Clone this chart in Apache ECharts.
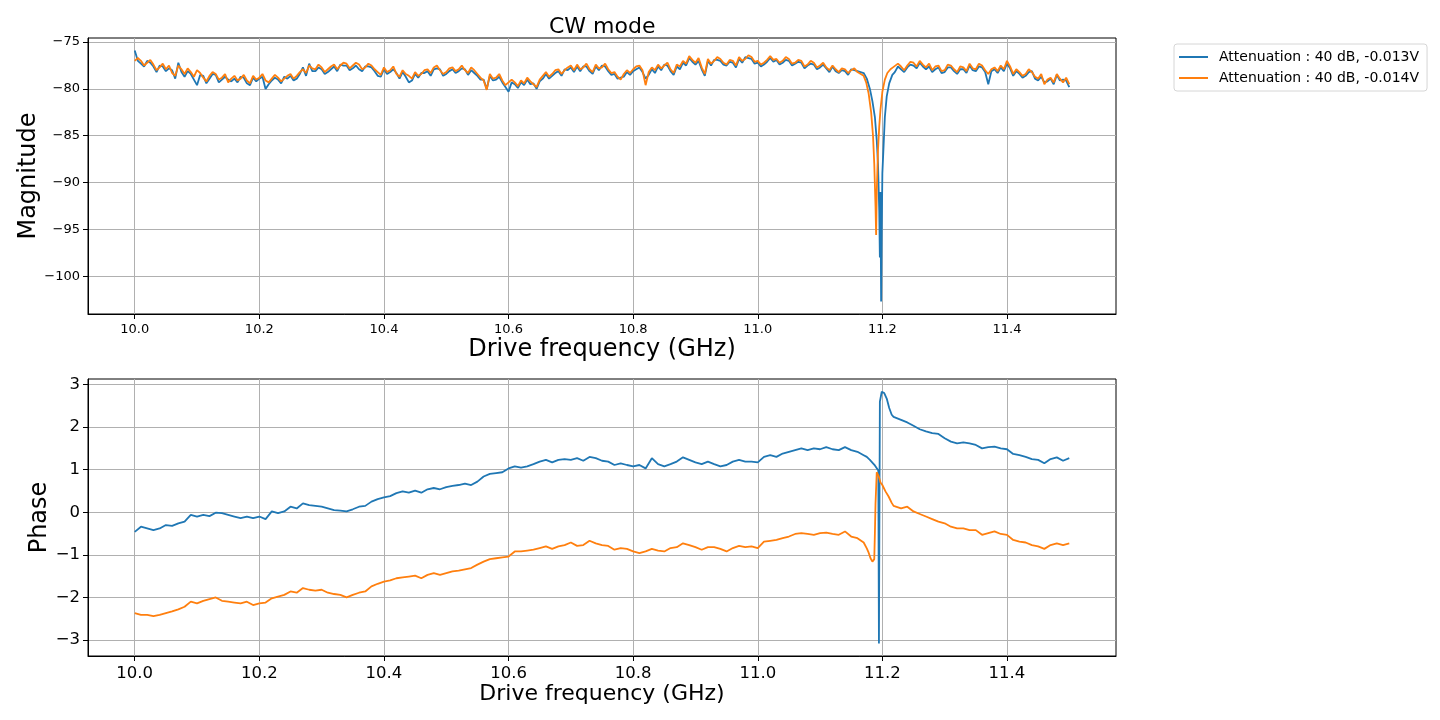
<!DOCTYPE html>
<html>
<head>
<meta charset="utf-8">
<script src="https://cdn.jsdelivr.net/npm/echarts@6/dist/echarts.min.js"></script>
<style>
html, body { margin: 0; padding: 0; background: #fff; }
#main { width: 1440px; height: 720px; }
</style>
</head>
<body>
<div id="main"></div>
<script>
// drive frequency grid (GHz), the resonance region is sampled separately
var freq = [
  10.00, 10.01, 10.02, 10.03, 10.04, 10.05, 10.06, 10.07, 10.08, 10.09,
  10.10, 10.11, 10.12, 10.13, 10.14, 10.15, 10.16, 10.17, 10.18, 10.19,
  10.20, 10.21, 10.22, 10.23, 10.24, 10.25, 10.26, 10.27, 10.28, 10.29,
  10.30, 10.31, 10.32, 10.33, 10.34, 10.35, 10.36, 10.37, 10.38, 10.39,
  10.40, 10.41, 10.42, 10.43, 10.44, 10.45, 10.46, 10.47, 10.48, 10.49,
  10.50, 10.51, 10.52, 10.53, 10.54, 10.55, 10.56, 10.57, 10.58, 10.59,
  10.60, 10.61, 10.62, 10.63, 10.64, 10.65, 10.66, 10.67, 10.68, 10.69,
  10.70, 10.71, 10.72, 10.73, 10.74, 10.75, 10.76, 10.77, 10.78, 10.79,
  10.80, 10.81, 10.82, 10.83, 10.84, 10.85, 10.86, 10.87, 10.88, 10.89,
  10.90, 10.91, 10.92, 10.93, 10.94, 10.95, 10.96, 10.97, 10.98, 10.99,
  11.00, 11.01, 11.02, 11.03, 11.04, 11.05, 11.06, 11.07, 11.08, 11.09,
  11.10, 11.11, 11.12, 11.13, 11.14, 11.15, 11.16,
  11.22, 11.23, 11.24, 11.25, 11.26, 11.27, 11.28, 11.29,
  11.30, 11.31, 11.32, 11.33, 11.34, 11.35, 11.36, 11.37, 11.38, 11.39,
  11.40, 11.41, 11.42, 11.43, 11.44, 11.45, 11.46, 11.47, 11.48, 11.49, 11.50
];
// half-step points for the noisy magnitude traces
var freqMid = [
  10.005, 10.015, 10.025, 10.035, 10.045, 10.055, 10.065, 10.075, 10.085, 10.095,
  10.105, 10.115, 10.125, 10.135, 10.145, 10.155, 10.165, 10.175, 10.185, 10.195,
  10.205, 10.215, 10.225, 10.235, 10.245, 10.255, 10.265, 10.275, 10.285, 10.295,
  10.305, 10.315, 10.325, 10.335, 10.345, 10.355, 10.365, 10.375, 10.385, 10.395,
  10.405, 10.415, 10.425, 10.435, 10.445, 10.455, 10.465, 10.475, 10.485, 10.495,
  10.505, 10.515, 10.525, 10.535, 10.545, 10.555, 10.565, 10.575, 10.585, 10.595,
  10.605, 10.615, 10.625, 10.635, 10.645, 10.655, 10.665, 10.675, 10.685, 10.695,
  10.705, 10.715, 10.725, 10.735, 10.745, 10.755, 10.765, 10.775, 10.785, 10.795,
  10.805, 10.815, 10.825, 10.835, 10.845, 10.855, 10.865, 10.875, 10.885, 10.895,
  10.905, 10.915, 10.925, 10.935, 10.945, 10.955, 10.965, 10.975, 10.985, 10.995,
  11.005, 11.015, 11.025, 11.035, 11.045, 11.055, 11.065, 11.075, 11.085, 11.095,
  11.105, 11.115, 11.125, 11.135, 11.145, 11.155,
  11.225, 11.235, 11.245, 11.255, 11.265, 11.275, 11.285, 11.295,
  11.305, 11.315, 11.325, 11.335, 11.345, 11.355, 11.365, 11.375, 11.385, 11.395,
  11.405, 11.415, 11.425, 11.435, 11.445, 11.455, 11.465, 11.475, 11.485, 11.495
];

var nameA = 'Attenuation : 40 dB, -0.013V';
var nameB = 'Attenuation : 40 dB, -0.014V';

// magnitude, -0.013V
var magA = [
  -75.9, -77.3, -77.0, -77.6, -77.5, -78.1, -78.0, -77.2, -78.7, -78.4,
  -79.6, -78.6, -78.9, -78.5, -79.0, -79.0, -78.9, -78.7, -79.4, -78.8,
  -78.9, -80.0, -79.1, -79.0, -78.7, -78.6, -78.9, -77.7, -77.3, -78.1,
  -77.9, -78.2, -77.6, -77.4, -77.5, -77.8, -77.9, -77.6, -77.7, -78.6,
  -77.9, -78.2, -78.3, -78.2, -79.3, -78.4, -78.3, -78.1, -77.9, -77.9,
  -78.4, -77.9, -78.1, -77.9, -78.0, -78.6, -79.0, -78.6, -79.0, -79.3,
  -80.3, -79.5, -79.3, -79.0, -79.4, -79.2, -78.4, -78.6, -78.1, -77.9,
  -77.7, -77.6, -77.6, -78.1, -77.6, -77.5, -78.1, -78.4, -78.8, -78.2,
  -78.1, -77.7, -78.9, -77.9, -77.6, -77.4, -78.1, -77.6, -77.2, -76.7,
  -77.4, -77.9, -77.0, -76.9, -77.0, -77.5, -77.2, -76.8, -76.6, -76.8,
  -77.2, -77.4, -76.7, -76.9, -77.2, -77.0, -77.3, -77.2, -77.5, -77.4,
  -77.7, -77.8, -77.6, -78.3, -78.1, -77.9, -78.1,
  -78.2, -77.9, -77.7, -77.5, -77.2, -77.9, -78.2, -77.7,
  -78.2, -77.7, -78.4, -77.9, -77.5, -78.1, -77.7, -79.5, -77.9, -77.7,
  -77.3, -78.6, -78.4, -78.6, -78.1, -79.1, -79.3, -78.9, -78.5, -79.0, -79.8
];
var magAMid = [
  -77.0, -77.6, -77.2, -78.2, -77.6, -77.8, -78.9, -78.2, -78.1, -79.0,
  -78.5, -79.4, -78.4, -79.3, -78.7, -79.2, -79.3, -78.8, -79.6, -79.2,
  -78.7, -79.5, -78.8, -79.4, -78.9, -79.1, -78.4, -78.6, -78.1, -77.7,
  -78.4, -77.9, -78.1, -77.5, -78.0, -77.5, -78.1, -77.6, -78.1, -78.7,
  -78.4, -77.9, -78.9, -78.7, -79.1, -78.8, -78.3, -78.6, -77.8, -78.6,
  -78.1, -78.3, -77.8, -78.5, -78.3, -79.0, -80.0, -79.1, -78.7, -79.8,
  -79.3, -79.9, -79.6, -79.5, -80.0, -78.9, -78.9, -78.3, -78.6, -78.0,
  -78.2, -78.1, -77.6, -78.4, -78.0, -77.6, -78.5, -78.9, -78.7, -78.5,
  -77.9, -78.2, -78.5, -78.3, -78.0, -77.5, -78.5, -77.9, -77.5, -77.1,
  -77.0, -78.6, -77.5, -76.9, -77.4, -77.1, -77.7, -77.2, -76.7, -77.3,
  -77.6, -77.1, -77.1, -77.4, -76.9, -77.5, -77.1, -77.8, -77.3, -77.9,
  -77.4, -78.2, -78.1, -78.0, -78.5, -78.0,
  -77.6, -78.2, -77.4, -77.8, -77.6, -77.6, -77.9, -78.3,
  -77.7, -78.1, -77.9, -78.3, -78.0, -77.6, -78.2, -78.1, -78.3, -78.1,
  -77.8, -78.1, -78.8, -78.2, -78.9, -78.7, -79.2, -79.5, -79.1, -79.1
];
var magADipF = [11.170, 11.175, 11.180, 11.184, 11.188, 11.191, 11.193, 11.195, 11.196, 11.197,
  11.198, 11.199, 11.200, 11.202, 11.204, 11.207, 11.211, 11.216];
var magADip = [-78.3, -78.9, -80.0, -81.3, -83.0, -85.5, -88.0, -93.0, -98.0, -91.0,
  -102.7, -95.0, -89.0, -86.0, -83.0, -80.8, -79.4, -78.5];

// magnitude, -0.014V
var magB = [
  -77.0, -77.0, -77.2, -77.4, -77.7, -77.9, -78.3, -77.5, -78.4, -78.2,
  -78.0, -78.8, -78.6, -78.4, -78.8, -79.3, -78.6, -78.9, -79.1, -78.6,
  -78.8, -79.1, -78.9, -78.8, -78.9, -78.4, -78.6, -77.9, -77.5, -77.9,
  -77.7, -77.9, -77.4, -77.5, -77.3, -77.5, -77.4, -77.7, -77.5, -78.2,
  -77.7, -78.0, -78.4, -78.0, -78.6, -78.2, -78.4, -77.9, -77.7, -78.0,
  -78.2, -77.7, -77.9, -78.0, -77.7, -78.4, -79.1, -78.4, -78.8, -79.1,
  -79.3, -79.3, -79.1, -78.8, -79.5, -79.0, -78.2, -78.4, -77.9, -78.0,
  -77.5, -77.4, -77.7, -77.9, -77.4, -77.7, -77.9, -78.2, -79.0, -78.0,
  -77.9, -77.5, -79.6, -77.7, -77.4, -77.5, -77.9, -77.4, -77.0, -76.5,
  -77.2, -77.7, -76.8, -77.0, -76.8, -77.4, -77.0, -76.6, -76.8, -76.6,
  -77.0, -77.2, -76.5, -76.8, -77.0, -76.8, -77.2, -77.0, -77.4, -77.2,
  -77.5, -77.7, -77.5, -78.2, -77.9, -78.0, -78.2,
  -77.8, -77.6, -77.5, -77.2, -77.0, -77.7, -78.0, -77.5,
  -78.0, -77.5, -78.2, -77.7, -77.3, -77.9, -77.5, -78.4, -77.7, -77.5,
  -77.0, -78.4, -78.2, -78.4, -78.2, -78.9, -79.5, -78.8, -78.4, -79.3, -79.5
];
var magBMid = [
  -76.7, -77.5, -76.9, -78.0, -77.3, -77.5, -78.6, -77.9, -77.8, -78.7,
  -78.3, -79.2, -78.2, -79.0, -78.4, -78.9, -79.1, -78.5, -79.4, -79.0,
  -78.4, -79.3, -78.5, -79.2, -78.6, -78.9, -78.2, -78.3, -77.8, -77.4,
  -78.2, -77.6, -77.9, -77.2, -77.8, -77.2, -77.9, -77.3, -77.9, -78.5,
  -78.2, -77.6, -78.7, -78.4, -78.9, -78.6, -78.0, -78.3, -77.5, -78.4,
  -77.8, -78.1, -77.5, -78.3, -78.0, -78.8, -80.1, -78.9, -78.4, -79.6,
  -79.0, -79.7, -79.4, -79.2, -79.8, -78.6, -78.7, -78.0, -78.4, -77.7,
  -78.0, -77.9, -77.3, -78.2, -77.8, -77.3, -78.3, -78.7, -78.4, -78.3,
  -77.6, -78.0, -78.2, -78.0, -77.8, -77.2, -78.3, -77.6, -77.3, -76.9,
  -76.7, -78.4, -77.3, -76.6, -77.2, -76.9, -77.5, -77.0, -76.4, -77.1,
  -77.4, -76.9, -76.9, -77.2, -76.6, -77.3, -76.9, -77.6, -77.0, -77.7,
  -77.2, -78.0, -77.9, -77.8, -78.3, -77.8,
  -77.3, -78.0, -77.1, -77.6, -77.4, -77.3, -77.6, -78.1,
  -77.4, -77.9, -77.6, -78.1, -77.8, -77.3, -78.0, -77.9, -78.1, -77.9,
  -77.6, -77.9, -78.6, -77.9, -78.7, -78.4, -79.0, -79.3, -78.9, -78.8
];
var magBDipF = [11.170, 11.174, 11.178, 11.182, 11.185, 11.187, 11.189, 11.190, 11.191, 11.193,
  11.195, 11.197, 11.200, 11.204, 11.208, 11.213, 11.217];
var magBDip = [-78.6, -79.3, -80.5, -82.5, -85.0, -88.0, -92.5, -95.6, -91.0, -86.5,
  -84.0, -82.2, -80.3, -79.0, -78.3, -77.9, -77.7];

// phase, -0.013V
var phaseA = [
  -0.46, -0.34, -0.38, -0.42, -0.38, -0.30, -0.32, -0.26, -0.22, -0.06,
  -0.10, -0.06, -0.09, -0.01, -0.02, -0.06, -0.10, -0.14, -0.10, -0.14,
  -0.10, -0.16, 0.02, -0.02, 0.02, 0.13, 0.09, 0.21, 0.17, 0.15,
  0.13, 0.09, 0.05, 0.04, 0.02, 0.07, 0.13, 0.15, 0.25, 0.31,
  0.35, 0.38, 0.45, 0.49, 0.46, 0.51, 0.46, 0.54, 0.57, 0.54,
  0.59, 0.62, 0.64, 0.67, 0.64, 0.72, 0.84, 0.90, 0.92, 0.94,
  1.03, 1.08, 1.05, 1.08, 1.13, 1.19, 1.23, 1.17, 1.23, 1.25,
  1.23, 1.27, 1.21, 1.30, 1.27, 1.21, 1.19, 1.11, 1.15, 1.11,
  1.08, 1.11, 1.03, 1.27, 1.13, 1.08, 1.13, 1.19, 1.29, 1.23,
  1.17, 1.13, 1.19, 1.13, 1.08, 1.11, 1.19, 1.23, 1.19, 1.19,
  1.17, 1.30, 1.34, 1.30, 1.38, 1.42, 1.46, 1.50, 1.46, 1.50,
  1.48, 1.53, 1.48, 1.46, 1.53, 1.46, 1.42,
  2.21, 2.17, 2.11, 2.03, 1.95, 1.90, 1.86, 1.84,
  1.74, 1.66, 1.62, 1.64, 1.62, 1.58, 1.50, 1.53, 1.54, 1.50,
  1.48, 1.37, 1.34, 1.30, 1.25, 1.23, 1.15, 1.25, 1.29, 1.21, 1.27
];
var phaseADipF = [11.170, 11.175, 11.180, 11.185, 11.188, 11.1935, 11.1945, 11.196, 11.199, 11.203,
  11.207, 11.211, 11.215, 11.218];
var phaseADip = [1.34, 1.30, 1.23, 1.15, 1.10, 0.98, -3.08, 2.60, 2.83, 2.80,
  2.67, 2.45, 2.29, 2.24];

// phase, -0.014V
var phaseB = [
  -2.37, -2.41, -2.41, -2.44, -2.41, -2.37, -2.33, -2.28, -2.22, -2.10,
  -2.14, -2.08, -2.04, -2.00, -2.08, -2.10, -2.12, -2.14, -2.10, -2.18,
  -2.14, -2.12, -2.02, -1.98, -1.94, -1.86, -1.89, -1.78, -1.82, -1.84,
  -1.82, -1.89, -1.92, -1.94, -2.00, -1.94, -1.89, -1.86, -1.74, -1.68,
  -1.63, -1.60, -1.55, -1.53, -1.51, -1.49, -1.55, -1.47, -1.43, -1.47,
  -1.43, -1.39, -1.37, -1.34, -1.31, -1.23, -1.16, -1.10, -1.08, -1.06,
  -1.04, -0.92, -0.92, -0.90, -0.88, -0.84, -0.80, -0.86, -0.80, -0.77,
  -0.71, -0.79, -0.77, -0.67, -0.73, -0.77, -0.79, -0.88, -0.84, -0.86,
  -0.92, -0.96, -0.92, -0.86, -0.90, -0.92, -0.84, -0.82, -0.73, -0.77,
  -0.82, -0.88, -0.82, -0.82, -0.86, -0.92, -0.84, -0.79, -0.82, -0.80,
  -0.84, -0.69, -0.67, -0.65, -0.61, -0.57, -0.51, -0.49, -0.51, -0.53,
  -0.49, -0.48, -0.51, -0.53, -0.45, -0.57, -0.61,
  0.13, 0.09, 0.13, 0.02, -0.04, -0.10, -0.16, -0.22,
  -0.26, -0.34, -0.38, -0.38, -0.42, -0.42, -0.53, -0.49, -0.45, -0.51,
  -0.53, -0.65, -0.69, -0.71, -0.77, -0.80, -0.86, -0.77, -0.73, -0.77, -0.73
];
var phaseBDipF = [11.170, 11.175, 11.178, 11.181, 11.184, 11.187, 11.188, 11.189, 11.191, 11.194,
  11.197, 11.200, 11.205, 11.210, 11.215, 11.218];
var phaseBDip = [-0.71, -0.85, -0.95, -1.08, -1.16, -1.10, -0.50, 0.20, 0.94, 0.85,
  0.70, 0.64, 0.49, 0.37, 0.22, 0.15];

// tick labels
var freqTicks = [10.0, 10.2, 10.4, 10.6, 10.8, 11.0, 11.2, 11.4];
var magTicks = [-100, -95, -90, -85, -80, -75];
var phaseTicks = [-3, -2, -1, 0, 1, 2, 3];

var blue = '#1f77b4';
var orange = '#ff7f0e';
var font = 'DejaVu Sans';

// merge several (frequency, value) array pairs into one sorted trace
function toPairs(parts) {
    var out = [];
    parts.forEach(function (p) {
        for (var i = 0; i < p[0].length; i++) out.push([p[0][i], p[1][i]]);
    });
    out.sort(function (a, b) { return a[0] - b[0]; });
    return out;
}

// matplotlib style minus sign
function minus(v) {
    return String(v).replace('-', '\u2212');
}

function xAxisFor(gridIndex, fontSize, nameSize, nameGap) {
    return {
        type: 'value',
        gridIndex: gridIndex,
        min: 9.925,
        max: 11.575,
        name: 'Drive frequency (GHz)',
        nameLocation: 'middle',
        nameGap: nameGap,
        nameMoveOverlap: false,
        nameTextStyle: { fontFamily: font, fontSize: nameSize, color: '#000' },
        axisLine: { show: true, onZero: false, lineStyle: { color: '#000', width: 1 } },
        axisTick: { show: true, length: 5, customValues: freqTicks, lineStyle: { color: '#000' } },
        axisLabel: {
            customValues: freqTicks,
            margin: 9,
            fontFamily: font,
            fontSize: fontSize,
            color: '#000',
            formatter: function (v) { return v.toFixed(1); }
        },
        splitLine: { show: true, lineStyle: { color: '#b0b0b0', width: 1 } }
    };
}

function yAxisFor(gridIndex, min, max, ticks, name, fontSize, nameGap) {
    return {
        type: 'value',
        gridIndex: gridIndex,
        min: min,
        max: max,
        name: name,
        nameLocation: 'middle',
        nameGap: nameGap,
        nameMoveOverlap: false,
        nameTextStyle: { fontFamily: font, fontSize: 24, color: '#000' },
        axisLine: { show: true, onZero: false, lineStyle: { color: '#000', width: 1 } },
        axisTick: { show: true, length: 5, customValues: ticks, lineStyle: { color: '#000' } },
        axisLabel: {
            customValues: ticks,
            margin: 8,
            fontFamily: font,
            fontSize: fontSize,
            color: '#000',
            formatter: minus
        },
        splitLine: { show: true, lineStyle: { color: '#b0b0b0', width: 1 } }
    };
}

function lineSeries(name, color, xi, data) {
    return {
        name: name,
        type: 'line',
        xAxisIndex: xi,
        yAxisIndex: xi,
        data: data,
        showSymbol: false,
        symbol: 'none',
        lineStyle: { color: color, width: 1.8 },
        itemStyle: { color: color },
        z: 3
    };
}

var chart = echarts.init(document.getElementById('main'));
chart.setOption({
    animation: false,
    backgroundColor: '#fff',
    title: {
        text: 'CW mode',
        left: 544,
        top: 11,
        textStyle: { fontFamily: font, fontSize: 22, fontWeight: 'normal', color: '#000' }
    },
    legend: {
        orient: 'vertical',
        left: 1174,
        top: 44,
        data: [nameA, nameB],
        icon: 'rect',
        itemWidth: 29,
        itemHeight: 2,
        itemGap: 7,
        padding: [6, 8, 6, 5],
        borderColor: '#d6d6d6',
        borderWidth: 1,
        borderRadius: 3,
        backgroundColor: '#fff',
        textStyle: { fontFamily: font, fontSize: 14, color: '#000', padding: [0, 0, 0, 6] }
    },
    grid: [
        { left: 88, top: 38, width: 1028, height: 276, show: true, borderColor: '#000', borderWidth: 1 },
        { left: 88, top: 379, width: 1028, height: 277, show: true, borderColor: '#000', borderWidth: 1 }
    ],
    xAxis: [
        xAxisFor(0, 13, 24, 24),
        xAxisFor(1, 16.5, 22, 27)
    ],
    yAxis: [
        yAxisFor(0, -104.04, -74.56, magTicks, 'Magnitude', 13, 47),
        yAxisFor(1, -3.376, 3.13, phaseTicks, 'Phase', 16.5, 36)
    ],
    series: [
        lineSeries(nameA, blue, 0, toPairs([[freq, magA], [freqMid, magAMid], [magADipF, magADip]])),
        lineSeries(nameB, orange, 0, toPairs([[freq, magB], [freqMid, magBMid], [magBDipF, magBDip]])),
        lineSeries(nameA, blue, 1, toPairs([[freq, phaseA], [phaseADipF, phaseADip]])),
        lineSeries(nameB, orange, 1, toPairs([[freq, phaseB], [phaseBDipF, phaseBDip]]))
    ]
});
</script>
</body>
</html>
